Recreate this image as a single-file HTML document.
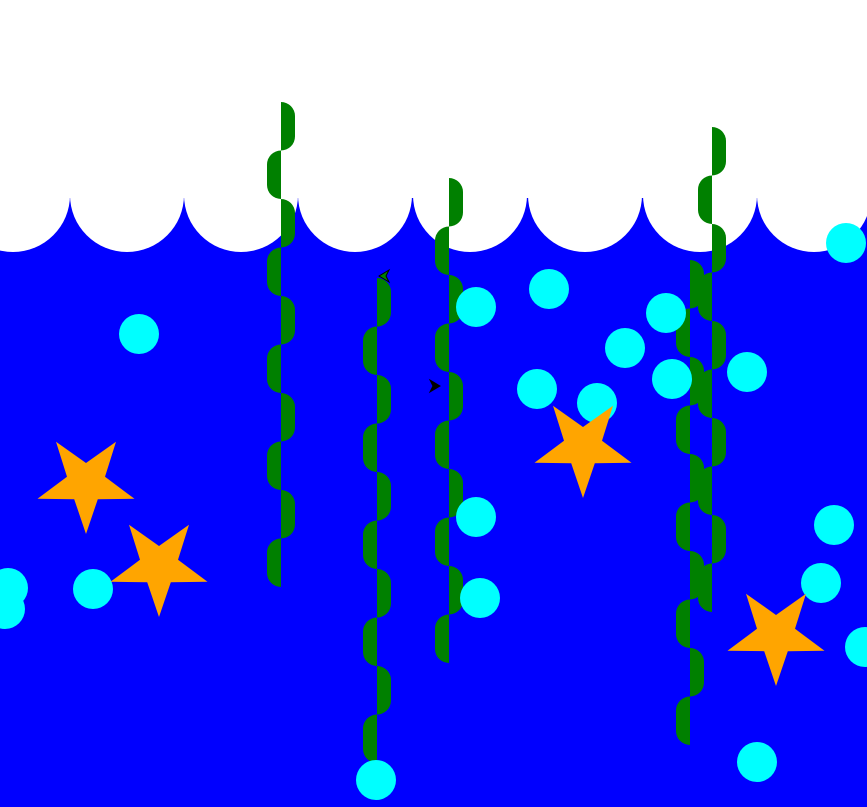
<!DOCTYPE html>
<html><head><meta charset="utf-8"><style>
html,body{margin:0;padding:0;background:#fff;overflow:hidden}
svg{display:block}
</style></head><body>
<svg id="scene" width="867" height="807" viewBox="0 0 867 807" xmlns="http://www.w3.org/2000/svg">
<rect x="0" y="195" width="867" height="612" fill="#0000ff"/>
<rect x="0" y="0" width="867" height="198" fill="#ffffff"/>
<g id="waves"></g>
<g id="weeds"></g>
<g id="fish"></g>
<g id="bubbles"></g>
<g id="stars"></g>
</svg>
<script>
const NS="http://www.w3.org/2000/svg";
const waveX=[13,127,241,355,470,585,700,814,928];
const bubbleX=[139,476,549,666,625,537,597,672,747,846,476,480,834,821,865,93,8,5,376,757];
const bubbleY=[334,307,289,313,348,389,403,379,372,243,517,598,525,583,647,589,588,609,780,762];
const starX=[86,159,583,776];
const starY=[483,566,447,635];
const weedX=[281,377,449,712,690];
const weedTop=[102,278,178,127,260];
const weedSegs=[10,10,10,10,10];
const fishX=[384,435];
const fishY=[276,386];
const fishDir=[-1,1];
function mk(t,a,p){const e=document.createElementNS(NS,t);for(const k in a)e.setAttribute(k,a[k]);p.appendChild(e);return e;}
const wv=document.getElementById('waves');
waveX.forEach(x=>{const c=mk('circle',{cx:x,cy:195,r:57,fill:'#fff'},wv);

});
const wd=document.getElementById('weeds');
weedX.forEach((x,i)=>{const g=mk('g',{},wd);


const h=48.5,w=14,r=14;let side=1;
for(let s=0;s<weedSegs[i];s++){const y=weedTop[i]+s*h,hh=h;
let d;
if(side>0)d=`M${x},${y} L${x+w-r},${y} A${r},${r} 0 0 1 ${x+w},${y+r} L${x+w},${y+hh-r} A${r},${r} 0 0 1 ${x+w-r},${y+hh} L${x},${y+hh} Z`;
else d=`M${x},${y} L${x-w+r},${y} A${r},${r} 0 0 0 ${x-w},${y+r} L${x-w},${y+hh-r} A${r},${r} 0 0 0 ${x-w+r},${y+hh} L${x},${y+hh} Z`;
mk('path',{d:d,fill:'#008000'},g);side=-side;}});
const fs=document.getElementById('fish');
fishX.forEach((x,i)=>{const s=fishDir[i];
const p=mk('polygon',{points:`${x+5*s},${fishY[i]} ${x-5*s},${fishY[i]-6} ${x-2*s},${fishY[i]} ${x-5*s},${fishY[i]+6}`,fill:s>0?'#000':'#008000',stroke:'#000','stroke-width':1},fs);

});
const bb=document.getElementById('bubbles');
bubbleX.forEach((x,i)=>{const c=mk('circle',{cx:x,cy:bubbleY[i],r:20,fill:'#00ffff'},bb);

});
const st=document.getElementById('stars');
starX.forEach((x,i)=>{const R=51,ri=20,pts=[];
for(let k=0;k<10;k++){const a=Math.PI/2+k*Math.PI/5;const rr=k%2?ri:R;pts.push((x+rr*Math.cos(a)).toFixed(1)+','+(starY[i]+rr*Math.sin(a)).toFixed(1));}
const p=mk('polygon',{points:pts.join(' '),fill:'#ffa500'},st);

});
</script>
</body></html>
